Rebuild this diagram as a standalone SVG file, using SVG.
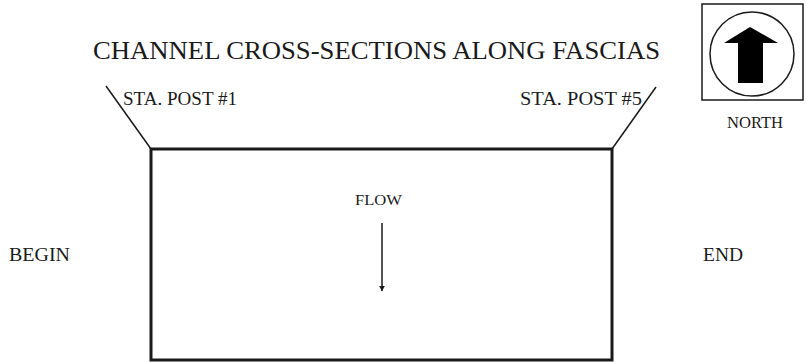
<svg xmlns="http://www.w3.org/2000/svg" width="806" height="362" viewBox="0 0 806 362">
<style>
text{font-family:"Liberation Serif","Times New Roman",serif;fill:#1a1a1a}
.ln{stroke:#1a1a1a;fill:none}
</style>
<defs>
<marker id="ah" viewBox="0 0 10 10" refX="9" refY="5" markerWidth="4" markerHeight="4" orient="auto"><path d="M0,0L10,5L0,10z" fill="#1a1a1a"/></marker>
</defs>
<rect width="806" height="362" fill="#fff"/>
<text x="93" y="59" font-size="26" textLength="567" lengthAdjust="spacingAndGlyphs">CHANNEL CROSS-SECTIONS ALONG FASCIAS</text>
<g id="channel">
<rect x="151" y="149" width="461" height="211" class="ln" stroke-width="3"/>
</g>
<g id="connectors">
<line x1="106" y1="86" x2="151" y2="149" class="ln" stroke-width="1.5"/>
<line x1="656" y1="87" x2="612" y2="149" class="ln" stroke-width="1.5"/>
<line x1="382" y1="223" x2="382" y2="291" class="ln" stroke-width="1.5" marker-end="url(#ah)"/>
</g>
<g id="sta1"><text x="123" y="105" font-size="18" textLength="114" lengthAdjust="spacingAndGlyphs">STA. POST #1</text></g>
<g id="sta5"><text x="520" y="105" font-size="18" textLength="122" lengthAdjust="spacingAndGlyphs">STA. POST #5</text></g>
<g id="flow"><text x="355" y="205" font-size="15" textLength="47" lengthAdjust="spacingAndGlyphs">FLOW</text></g>
<g id="begin"><text x="9" y="261" font-size="19" textLength="61" lengthAdjust="spacingAndGlyphs">BEGIN</text></g>
<g id="end"><text x="703" y="261" font-size="19" textLength="40" lengthAdjust="spacingAndGlyphs">END</text></g>
<g id="north">
<rect x="702" y="4" width="101" height="96" class="ln" stroke-width="1.5"/>
<circle cx="752" cy="54" r="42" class="ln" stroke-width="1.5"/>
<path d="M750,27L778,43L763,43L763,83L738,83L738,43L724,43Z" fill="#000"/>
<text x="727" y="128" font-size="16" textLength="56" lengthAdjust="spacingAndGlyphs">NORTH</text>
</g>
</svg>
